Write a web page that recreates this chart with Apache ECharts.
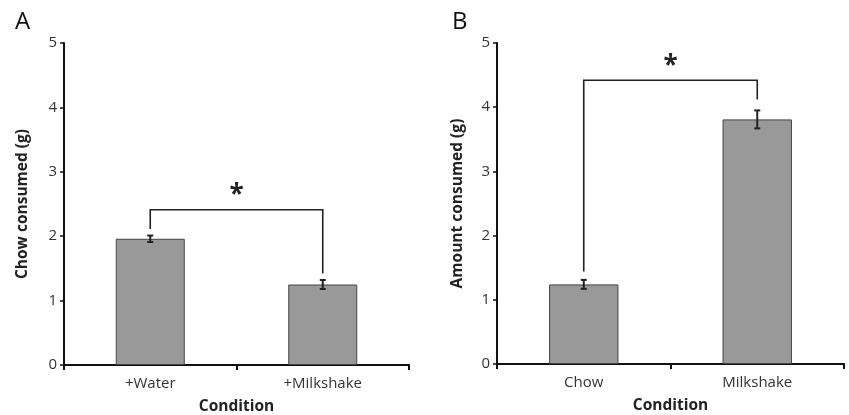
<!DOCTYPE html>
<html>
<head>
<meta charset="utf-8">
<script src="https://cdn.jsdelivr.net/npm/echarts@6/dist/echarts.min.js"></script>
<style>
  html, body { margin: 0; padding: 0; background: #fff; }
  #chart { width: 849px; height: 415px; }
</style>
</head>
<body>
<div id="chart"></div>
<script>
// panel A: chow intake
var catsA = ["+Water", "+Milkshake"];
var meansA = [1.96, 1.25];
var errA = [0.05, 0.07];
// bracket: [height of bar, left leg end, right leg end]
var bracketA = [2.41, 2.11, 1.42];

// panel B: amount consumed
var catsB = ["Chow", "Milkshake"];
var meansB = [1.24, 3.81];
var errB = [0.07, 0.14];
var bracketB = [4.42, 1.44, 4.12];

var yTicks = [0, 1, 2, 3, 4, 5];

var font = "'Open Sans', 'Liberation Sans', sans-serif";

function errData(means, errs) {
  return means.map(function (m, i) { return [i, m - errs[i], m + errs[i]]; });
}

function renderErr(params, api) {
  var lo = api.coord([api.value(0), api.value(1)]);
  var hi = api.coord([api.value(0), api.value(2)]);
  var w = 3;
  var st = { stroke: "#222", lineWidth: 2 };
  return {
    type: "group",
    children: [
      { type: "line", shape: { x1: lo[0], y1: lo[1], x2: hi[0], y2: hi[1] }, style: st },
      { type: "line", shape: { x1: lo[0] - w, y1: lo[1], x2: lo[0] + w, y2: lo[1] }, style: st },
      { type: "line", shape: { x1: hi[0] - w, y1: hi[1], x2: hi[0] + w, y2: hi[1] }, style: st }
    ]
  };
}

function renderBracket(params, api) {
  var top = api.value(0), l = api.value(1), r = api.value(2);
  var a = api.coord([0, top]);
  var b = api.coord([1, top]);
  var al = api.coord([0, l]);
  var br = api.coord([1, r]);
  var st = { stroke: "#222", lineWidth: 1.6, fill: null };
  return {
    type: "group",
    children: [
      { type: "polyline", shape: { points: [[al[0], al[1]], [a[0], a[1]], [b[0], b[1]], [br[0], br[1]]] }, style: st },
      { type: "text", style: { text: "*", x: (a[0] + b[0]) / 2, y: a[1] - 1, align: "center", verticalAlign: "bottom",
        font: "bold 26px " + font, fill: "#222" } }
    ]
  };
}

function xAxisCfg(cats, idx) {
  return {
    type: "category", gridIndex: idx, data: cats,
    name: "Condition", nameLocation: "middle", nameGap: 34,
    nameTextStyle: { fontFamily: font, fontWeight: "bold", fontSize: 15.5, color: "#222" },
    axisLine: { lineStyle: { color: "#111", width: 2 } },
    axisTick: { show: true, alignWithLabel: false, length: 5, lineStyle: { color: "#111", width: 2 } },
    axisLabel: { fontFamily: font, fontSize: 15, color: "#333", margin: 11 }
  };
}

function yAxisCfg(name, idx, gap) {
  return {
    type: "value", gridIndex: idx, min: 0, max: 5, interval: 1,
    name: name, nameLocation: "middle", nameGap: gap,
    nameTextStyle: { fontFamily: font, fontWeight: "bold", fontSize: 15.5, color: "#222" },
    axisLine: { show: true, lineStyle: { color: "#111", width: 2 } },
    axisTick: { show: true, length: 4, lineStyle: { color: "#111", width: 1.5 } },
    axisLabel: { fontFamily: font, fontSize: 15, color: "#333", margin: 7,
      formatter: function (v) { return yTicks.indexOf(v) >= 0 ? String(v) : ""; } },
    splitLine: { show: false }
  };
}

var barStyle = { color: "#999999", borderColor: "#444", borderWidth: 1 };

var chart = echarts.init(document.getElementById("chart"));
chart.setOption({
  animation: false,
  backgroundColor: "#fff",
  title: [
    { text: "A", left: 10, top: 5, textStyle: { fontFamily: font, fontSize: 24, fontWeight: "normal", color: "#111" } },
    { text: "B", left: 447, top: 5, textStyle: { fontFamily: font, fontSize: 24, fontWeight: "normal", color: "#111" } }
  ],
  grid: [
    { left: 64, right: 440, top: 43, bottom: 50, outerBoundsMode: "none" },
    { left: 497, right: 5, top: 43, bottom: 51, outerBoundsMode: "none" }
  ],
  xAxis: [xAxisCfg(catsA, 0), xAxisCfg(catsB, 1)],
  yAxis: [yAxisCfg("Chow consumed (g)", 0, 33), yAxisCfg("Amount consumed (g)", 1, 31)],
  series: [
    { type: "bar", xAxisIndex: 0, yAxisIndex: 0, data: meansA, barWidth: "40%", itemStyle: barStyle },
    { type: "custom", xAxisIndex: 0, yAxisIndex: 0, data: errData(meansA, errA), renderItem: renderErr, z: 3 },
    { type: "custom", xAxisIndex: 0, yAxisIndex: 0, data: [bracketA], renderItem: renderBracket, z: 3 },
    { type: "bar", xAxisIndex: 1, yAxisIndex: 1, data: meansB, barWidth: "40%", itemStyle: barStyle },
    { type: "custom", xAxisIndex: 1, yAxisIndex: 1, data: errData(meansB, errB), renderItem: renderErr, z: 3 },
    { type: "custom", xAxisIndex: 1, yAxisIndex: 1, data: [bracketB], renderItem: renderBracket, z: 3 }
  ]
});
</script>
</body>
</html>
